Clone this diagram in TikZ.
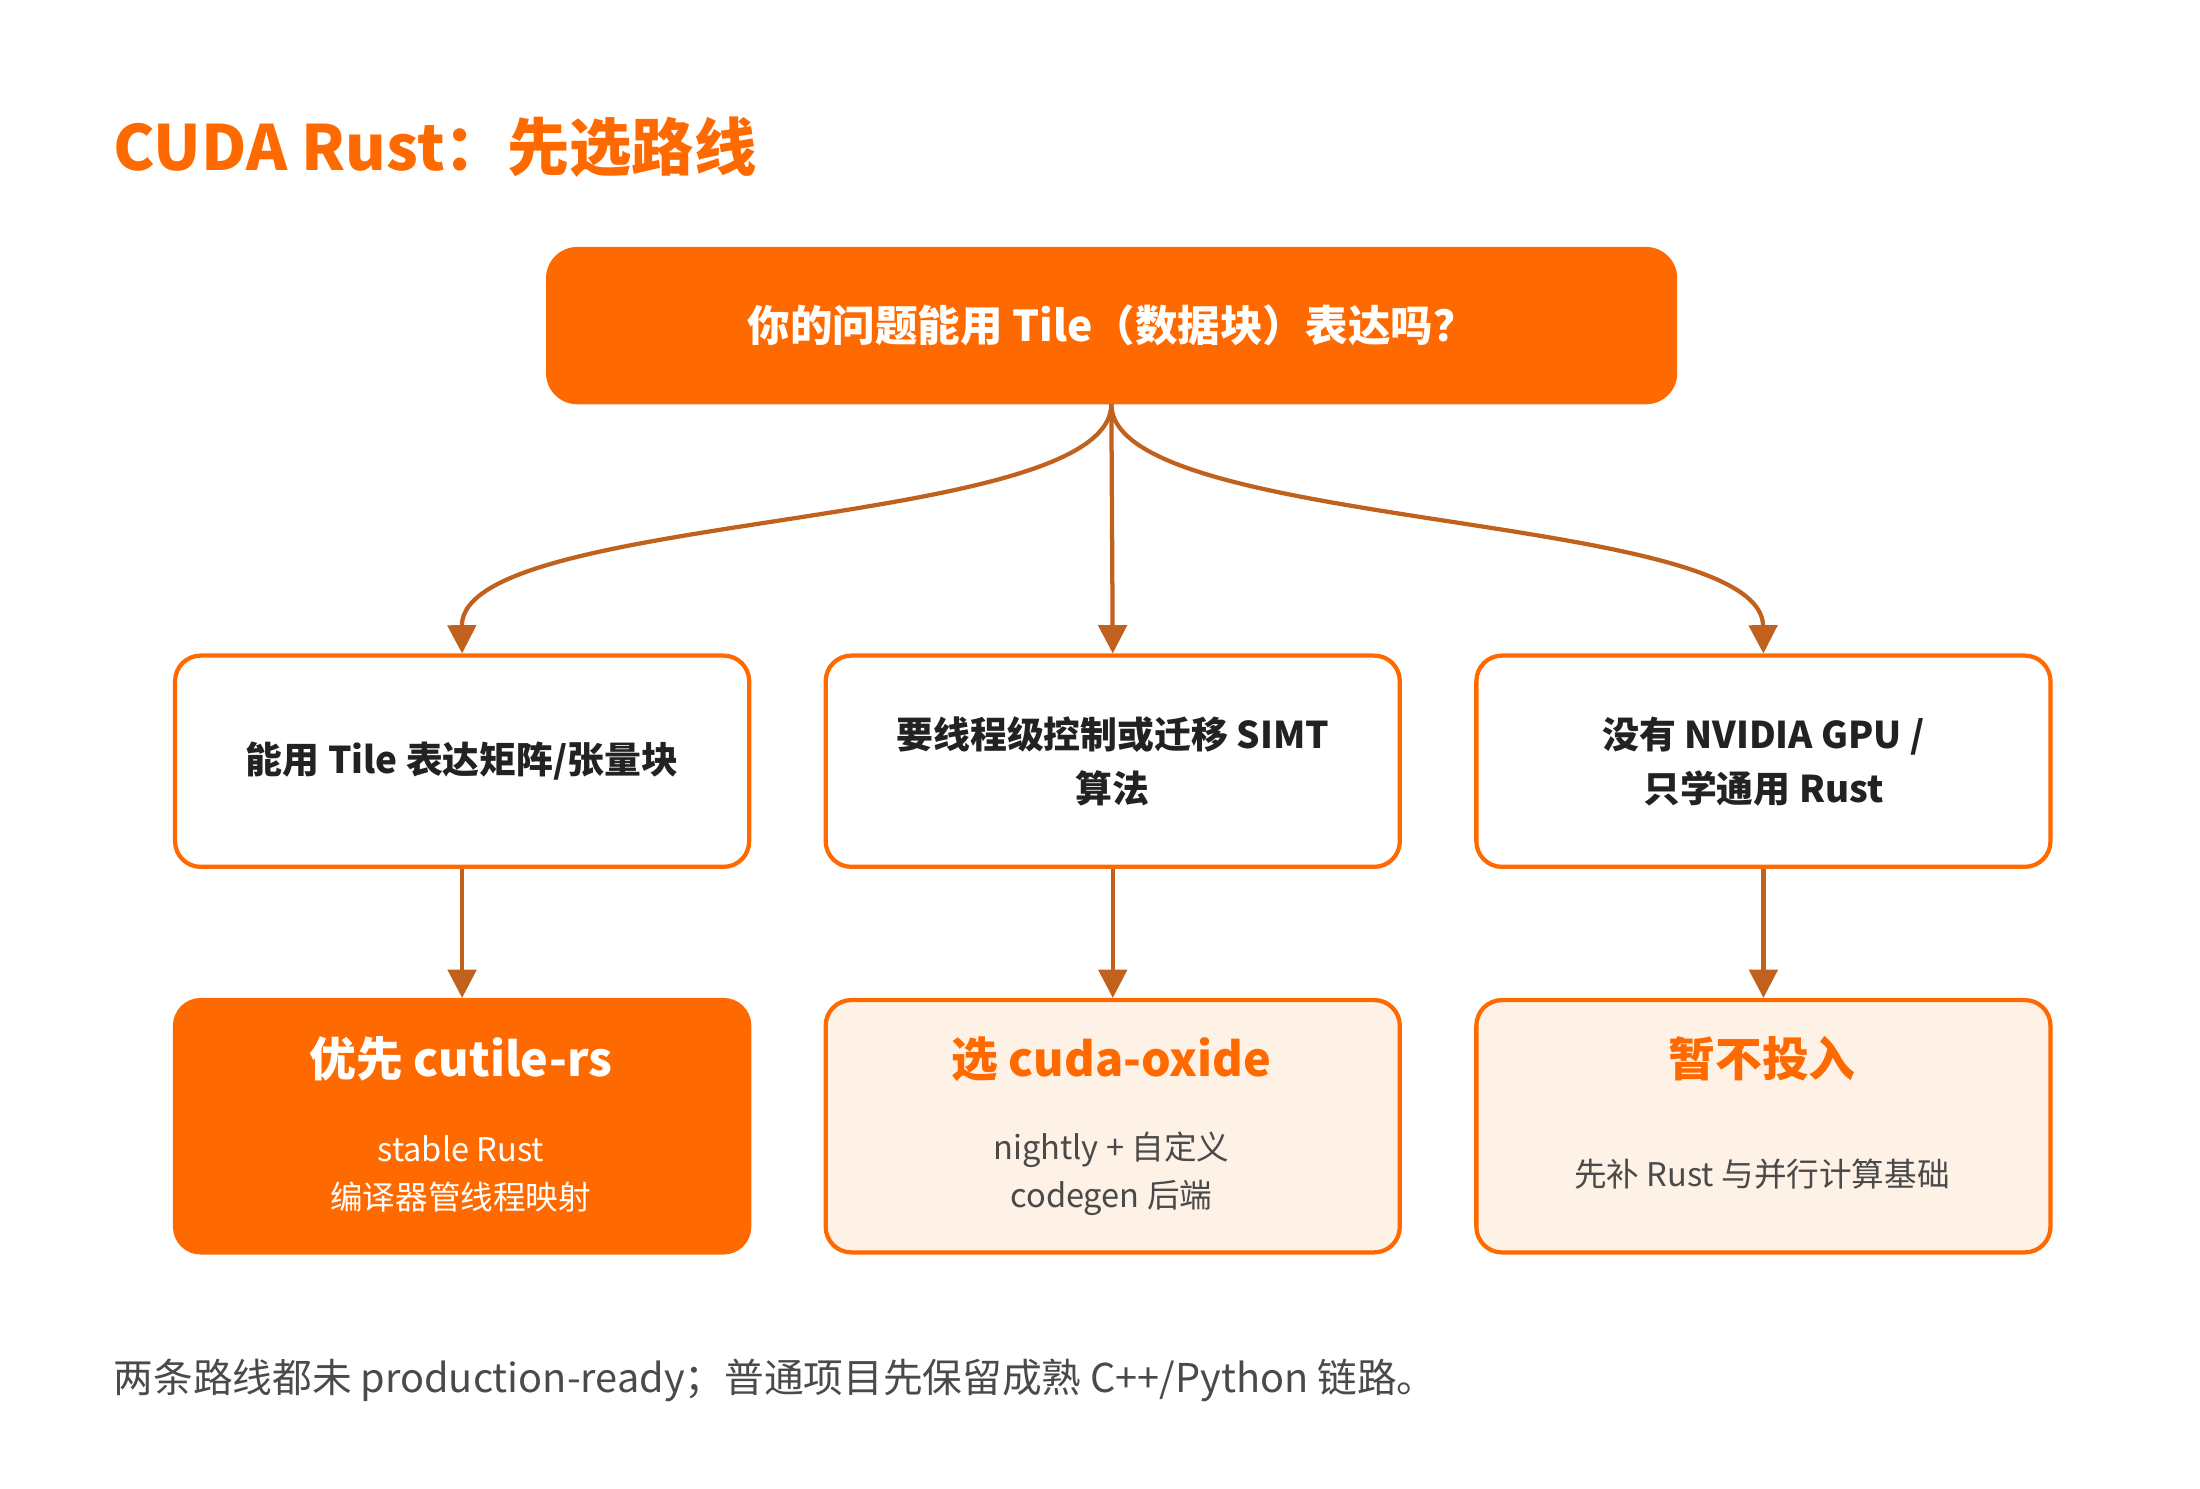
\documentclass[tikz,border=0pt]{standalone}
\usepackage{fontspec}
\setmainfont{Noto Sans CJK SC}
\usetikzlibrary{arrows.meta}
\definecolor{org}{HTML}{FF6A00}
\definecolor{arr}{HTML}{C0621E}
\definecolor{pale}{HTML}{FEF1E6}
\definecolor{txt}{HTML}{222222}
\definecolor{sub}{HTML}{4A4A4A}
\tikzset{
 box/.style={draw=org,line width=3pt,rounded corners=18pt,minimum width=405pt,minimum height=149pt,anchor=north west,align=center,inner sep=0pt},
 res/.style={box,minimum height=178pt},
 con/.style={draw=arr,line width=3pt,-{Triangle[length=20pt,width=20pt]}},
 q/.style={font=\fontsize{26}{38}\selectfont\bfseries,text=txt},
}
\begin{document}
\begin{tikzpicture}[x=1pt,y=-1pt]
\useasboundingbox (0,0) rectangle (1552,1050);
\node[anchor=base west,text=org,font=\fontsize{44}{50}\selectfont\bfseries,inner sep=0] (title) at (80,120) {CUDA Rust：先选路线};
\node[fill=org,rounded corners=22pt,minimum width=798pt,minimum height=111pt,anchor=north west,text=white,font=\fontsize{30}{36}\selectfont\bfseries] (top) at (385,174) {你的问题能用 Tile（数据块）表达吗？};
\node[box,q] (m1) at (122,461) {能用 Tile 表达矩阵/张量块};
\node[box,q] (m2) at (581,461) {要线程级控制或迁移 SIMT\\算法};
\node[box,q] (m3) at (1040,461) {没有 NVIDIA GPU /\\只学通用 Rust};
\node[res,fill=org] (b1) at (122,704) {};
\node[res,fill=pale] (b2) at (581,704) {};
\node[res,fill=pale] (b3) at (1040,704) {};
\node[text=white,font=\fontsize{33}{40}\selectfont\bfseries] (b1t) at (325,747) {优先 cutile-rs};
\node[text=white,align=center,font=\fontsize{23}{34}\selectfont] (b1s) at (325,828) {stable Rust\\编译器管线程映射};
\node[text=org,font=\fontsize{33}{40}\selectfont\bfseries] (b2t) at (784,747) {选 cuda-oxide};
\node[text=sub,align=center,font=\fontsize{23}{34}\selectfont] (b2s) at (784,828) {nightly + 自定义\\codegen 后端};
\node[text=org,font=\fontsize{33}{40}\selectfont\bfseries] (b3t) at (1243,747) {暂不投入};
\node[text=sub,font=\fontsize{23}{34}\selectfont] (b3s) at (1243,828) {先补 Rust 与并行计算基础};
\coordinate (src) at (784,285);
\draw[con] (src) .. controls (784,375) and (325,360) .. (m1.north);
\draw[con] (src) -- (m2.north);
\draw[con] (src) .. controls (784,375) and (1243,360) .. (m3.north);
\draw[con] (m1.south) -- (b1.north);
\draw[con] (m2.south) -- (b2.north);
\draw[con] (m3.south) -- (b3.north);
\node[anchor=base west,text=sub,font=\fontsize{28}{34}\selectfont,inner sep=0] (foot) at (80,982) {两条路线都未 production-ready；普通项目先保留成熟 C++/Python 链路。};
\end{tikzpicture}
\end{document}
